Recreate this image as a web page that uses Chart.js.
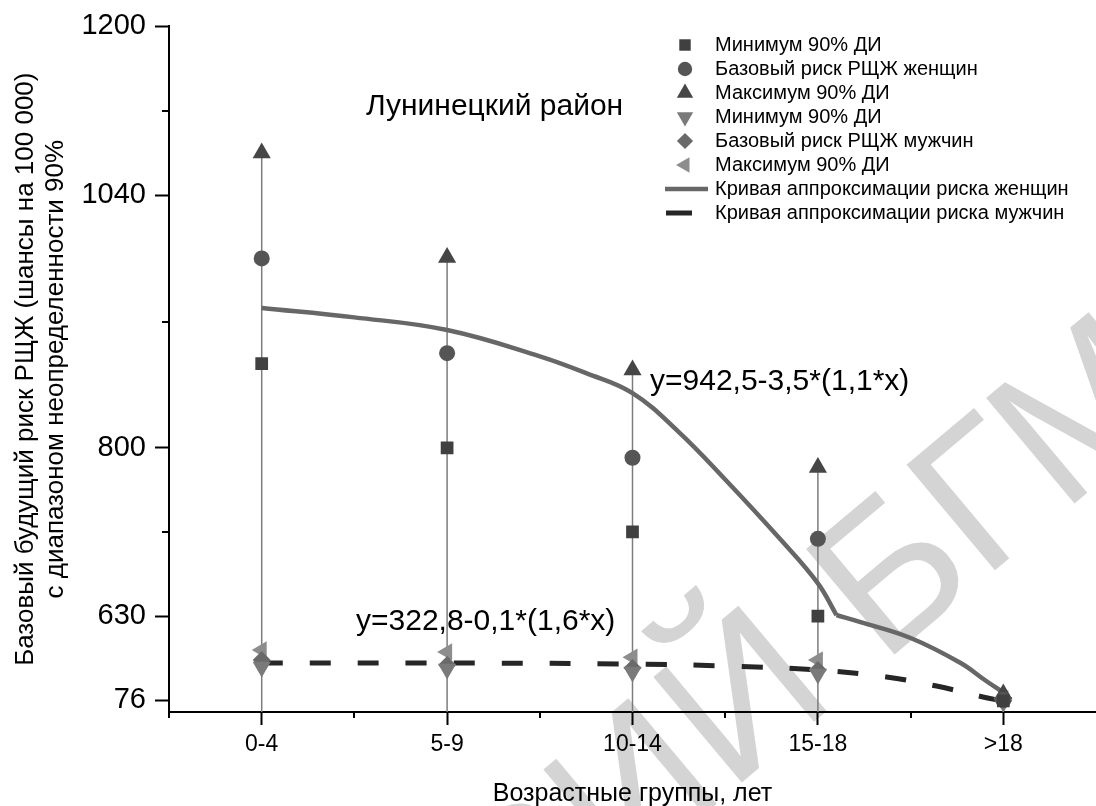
<!DOCTYPE html>
<html>
<head>
<meta charset="utf-8">
<script src="https://cdn.jsdelivr.net/npm/chart.js@4.4.1/dist/chart.umd.min.js"></script>
<style>
  html, body { margin: 0; padding: 0; background: #fff; }
</style>
</head>
<body>
<canvas id="riskChart" width="1096" height="806"></canvas>
<script>
// ---------------------------------------------------------------------------
// Data
// ---------------------------------------------------------------------------
const ageGroups = ['0-4', '5-9', '10-14', '15-18', '>18'];

const womenMin  = [880, 800, 715, 630, 70];
const womenBase = [980, 890, 790, 708, 76];
const womenMax  = [1080, 981, 874, 780, 115];

const menMin  = [294, 280, 261, 247, 62];
const menBase = [340, 307, 287, 274, 72];
const menMax  = [406, 393, 358, 340, 85];

// approximation curves (x = group number, 1 = '0-4'); the women curve
// bends sharply where it crosses the axis break at 630
const womenCurveX = [1, 1.5, 2, 2.5, 2.75, 3, 3.25, 3.5, 3.8, 4, 4.1];
const womenCurveY = [933, 924, 912, 887, 871, 852, 815, 768, 707, 663, 631];
const womenTailX = [4.1, 4.23, 4.5, 4.77, 4.9, 5];
const womenTailY = [631, 590, 485, 320, 208, 125];

const menCurveX = [1, 2, 3, 3.5, 4, 4.37, 4.64, 4.89, 5];
const menCurveY = [320, 320, 313, 300, 274, 228, 168, 96, 69];

const yTickValues = [76, 630, 800, 1040, 1200];
const yMinorValues = [715, 920, 1120];
const xMinorValues = [0.5, 1.5, 2.5, 3.5, 4.5];

const womenFormula = 'y=942,5-3,5*(1,1*x)';
const menFormula = 'y=322,8-0,1*(1,6*x)';

// ---------------------------------------------------------------------------
// Broken (piecewise linear) y scale, the axis is compressed below 630
// ---------------------------------------------------------------------------
const yBreakValues = [0, 76, 630, 800, 1040, 1200];
const yBreakFracs  = [0, 0.0175, 0.140, 0.3853, 0.7536, 1];

function valueToFrac(v) {
  const n = yBreakValues.length;
  if (v <= yBreakValues[0]) return yBreakFracs[0];
  for (let i = 1; i < n; i++) {
    if (v <= yBreakValues[i] || i === n - 1) {
      const t = (v - yBreakValues[i - 1]) / (yBreakValues[i] - yBreakValues[i - 1]);
      return yBreakFracs[i - 1] + t * (yBreakFracs[i] - yBreakFracs[i - 1]);
    }
  }
  return 1;
}

function fracToValue(f) {
  const n = yBreakFracs.length;
  for (let i = 1; i < n; i++) {
    if (f <= yBreakFracs[i] || i === n - 1) {
      const t = (f - yBreakFracs[i - 1]) / (yBreakFracs[i] - yBreakFracs[i - 1]);
      return yBreakValues[i - 1] + t * (yBreakValues[i] - yBreakValues[i - 1]);
    }
  }
  return yBreakValues[n - 1];
}

class BrokenLinearScale extends Chart.LinearScale {
  getPixelForValue(value) {
    if (value === null || value === undefined) return NaN;
    return this.getPixelForDecimal(valueToFrac(value));
  }
  getValueForPixel(pixel) {
    return fracToValue(this.getDecimalForPixel(pixel));
  }
}
BrokenLinearScale.id = 'brokenLinear';
BrokenLinearScale.defaults = Chart.LinearScale.defaults;
Chart.register(BrokenLinearScale);

// ---------------------------------------------------------------------------
// Helpers
// ---------------------------------------------------------------------------
const FONT = '"Liberation Sans", Arial, sans-serif';

function toPoints(values) {
  return values.map((v, i) => ({ x: i + 1, y: v }));
}

function toCurve(xs, ys) {
  return xs.map((x, i) => ({ x: x, y: ys[i] }));
}

// drop lines from every women maximum to the axis
function dropLines() {
  const pts = [];
  womenMax.forEach((v, i) => {
    pts.push({ x: i + 1, y: v });
    pts.push({ x: i + 1, y: 0 });
    pts.push({ x: i + 1.5, y: null });
  });
  return pts;
}

function markerSet(label, values, color, style, radius, rotation) {
  return {
    type: 'line',
    label: label,
    data: toPoints(values),
    showLine: false,
    pointStyle: style,
    pointRadius: radius,
    pointHoverRadius: radius,
    pointRotation: rotation || 0,
    pointBackgroundColor: color,
    pointBorderWidth: 0,
    backgroundColor: color,
    borderColor: color,
    order: 1
  };
}

function curveSet(label, xs, ys, color, width, dash, order) {
  return {
    type: 'line',
    label: label,
    data: toCurve(xs, ys),
    borderColor: color,
    borderWidth: width,
    borderDash: dash,
    pointRadius: 0,
    tension: 0.4,
    order: order
  };
}

const datasets = [
  {
    type: 'line',
    label: '_drop',
    data: dropLines(),
    borderColor: '#7c7c7c',
    borderWidth: 1.5,
    pointRadius: 0,
    spanGaps: false,
    order: 10
  },
  curveSet('Кривая аппроксимации риска женщин', womenCurveX, womenCurveY, '#676767', 4.5, [], 5),
  curveSet('_womenTail', womenTailX, womenTailY, '#676767', 4.5, [], 5),
  curveSet('Кривая аппроксимации риска мужчин', menCurveX, menCurveY, '#262626', 5, [21, 27], 4),
  markerSet('Минимум 90% ДИ', womenMin, '#404040', 'rect', 9),
  markerSet('Базовый риск РЩЖ женщин', womenBase, '#555555', 'circle', 8),
  markerSet('Максимум 90% ДИ', womenMax, '#464646', 'triangle', 10.5),
  markerSet('Минимум 90% ДИ', menMin, '#7a7a7a', 'triangle', 10.5, 180),
  markerSet('Базовый риск РЩЖ мужчин', menBase, '#6a6a6a', 'rectRot', 9),
  markerSet('Максимум 90% ДИ', menMax, '#8d8d8d', 'triangle', 10, 270)
];

// ---------------------------------------------------------------------------
// Extra drawing: watermark, minor ticks, titles, legend, formulas
// ---------------------------------------------------------------------------
const extrasPlugin = {
  id: 'extras',
  beforeDraw(chart) {
    const ctx = chart.ctx;
    ctx.save();
    ctx.fillStyle = '#fff';
    ctx.fillRect(0, 0, chart.width, chart.height);
    // faint repository watermark
    ctx.translate(882, 665);
    ctx.rotate(-40 * Math.PI / 180);
    ctx.font = '200px ' + FONT;
    ctx.fillStyle = '#d4d4d4';
    ctx.textBaseline = 'alphabetic';
    const pre = 'РЕПОЗИТОРИЙ ';
    ctx.fillText(pre + 'БГМУ', -ctx.measureText(pre).width, 0);
    ctx.restore();
  },
  afterDraw(chart) {
    const ctx = chart.ctx;
    const xs = chart.scales.x;
    const ys = chart.scales.y;
    const area = chart.chartArea;

    ctx.save();
    ctx.strokeStyle = '#000';
    ctx.lineWidth = 2;
    ctx.beginPath();
    yMinorValues.forEach(v => {
      const py = Math.round(ys.getPixelForValue(v));
      ctx.moveTo(area.left - 7, py);
      ctx.lineTo(area.left, py);
    });
    xMinorValues.forEach(v => {
      const px = Math.round(xs.getPixelForValue(v));
      ctx.moveTo(px, area.bottom);
      ctx.lineTo(px, area.bottom + 6);
    });
    ctx.stroke();

    ctx.fillStyle = '#000';

    // chart title and formulas
    ctx.textAlign = 'left';
    ctx.textBaseline = 'alphabetic';
    ctx.font = '30px ' + FONT;
    ctx.fillText('Лунинецкий район', 366, 115);
    ctx.fillText(womenFormula, 650, 390);
    ctx.fillText(menFormula, 356, 630);

    // axis titles
    ctx.font = '25px ' + FONT;
    ctx.textAlign = 'center';
    ctx.fillText('Возрастные группы, лет', (area.left + area.right) / 2, 801);

    ctx.save();
    ctx.translate(0, (area.top + area.bottom) / 2);
    ctx.rotate(-Math.PI / 2);
    ctx.font = '26px ' + FONT;
    ctx.textBaseline = 'middle';
    ctx.fillText('Базовый будущий риск РЩЖ (шансы на 100 000)', 0, 26);
    ctx.fillText('с диапазоном неопределенности 90%', 0, 56);
    ctx.restore();

    // legend
    const rowY0 = 45;
    const rowStep = 24;
    ctx.font = '20px ' + FONT;
    ctx.textAlign = 'left';
    ctx.textBaseline = 'middle';
    const markerSets = chart.data.datasets.filter(d => d.showLine === false);
    markerSets.forEach((d, i) => {
      const y = rowY0 + i * rowStep;
      ctx.fillStyle = d.pointBackgroundColor;
      Chart.helpers.drawPoint(ctx, {
        pointStyle: d.pointStyle,
        radius: d.pointRadius * 0.9,
        rotation: d.pointRotation,
        borderWidth: 0
      }, 685, y);
      ctx.fillStyle = '#000';
      ctx.fillText(d.label, 715, y);
    });
    const curves = chart.data.datasets.filter(d => d.label.indexOf('Кривая') === 0);
    curves.forEach((d, i) => {
      const y = rowY0 + (markerSets.length + i) * rowStep;
      ctx.strokeStyle = d.borderColor;
      ctx.lineWidth = d.borderWidth;
      ctx.beginPath();
      if (i === 0) {
        ctx.moveTo(665, y);
        ctx.lineTo(708, y);
      } else {
        ctx.moveTo(666, y);
        ctx.lineTo(692, y);
      }
      ctx.stroke();
      ctx.fillStyle = '#000';
      ctx.fillText(d.label, 715, y);
    });
    ctx.restore();
  }
};

// ---------------------------------------------------------------------------
// Chart
// ---------------------------------------------------------------------------
function initRiskChart() {
  const canvas = document.getElementById('riskChart');
  window.riskChart = new Chart(canvas, {
    type: 'line',
    data: { datasets: datasets },
    options: {
      responsive: false,
      animation: false,
      layout: {
        autoPadding: false,
        padding: { top: 26, right: 0, bottom: 0, left: 0 }
      },
      plugins: {
        legend: { display: false },
        tooltip: { enabled: false }
      },
      scales: {
        x: {
          type: 'linear',
          min: 0.5,
          max: 5.5,
          afterBuildTicks: (scale) => {
            scale.ticks = ageGroups.map((g, i) => ({ value: i + 1 }));
          },
          afterFit: (scale) => {
            scale.height = 94;
            scale.paddingLeft = 0;
            scale.paddingRight = 0;
          },
          ticks: {
            autoSkip: false,
            maxRotation: 0,
            padding: 6,
            color: '#000',
            font: { family: FONT, size: 23 },
            callback: (v) => ageGroups[v - 1] || ''
          },
          grid: {
            drawOnChartArea: false,
            drawTicks: true,
            tickLength: 13,
            tickWidth: 2,
            tickColor: '#000'
          },
          border: { color: '#000', width: 2 }
        },
        y: {
          type: 'brokenLinear',
          min: 0,
          max: 1200,
          afterBuildTicks: (scale) => {
            scale.ticks = yTickValues.map(v => ({ value: v }));
          },
          afterFit: (scale) => { scale.width = 169; },
          ticks: {
            autoSkip: false,
            padding: 9,
            color: '#000',
            font: { family: FONT, size: 29 },
            callback: (v) => String(v)
          },
          grid: {
            drawOnChartArea: false,
            drawTicks: true,
            tickLength: 14,
            tickWidth: 2,
            tickColor: '#000'
          },
          border: { color: '#000', width: 2 }
        }
      }
    },
    plugins: [extrasPlugin]
  });
}

initRiskChart();
</script>
</body>
</html>
